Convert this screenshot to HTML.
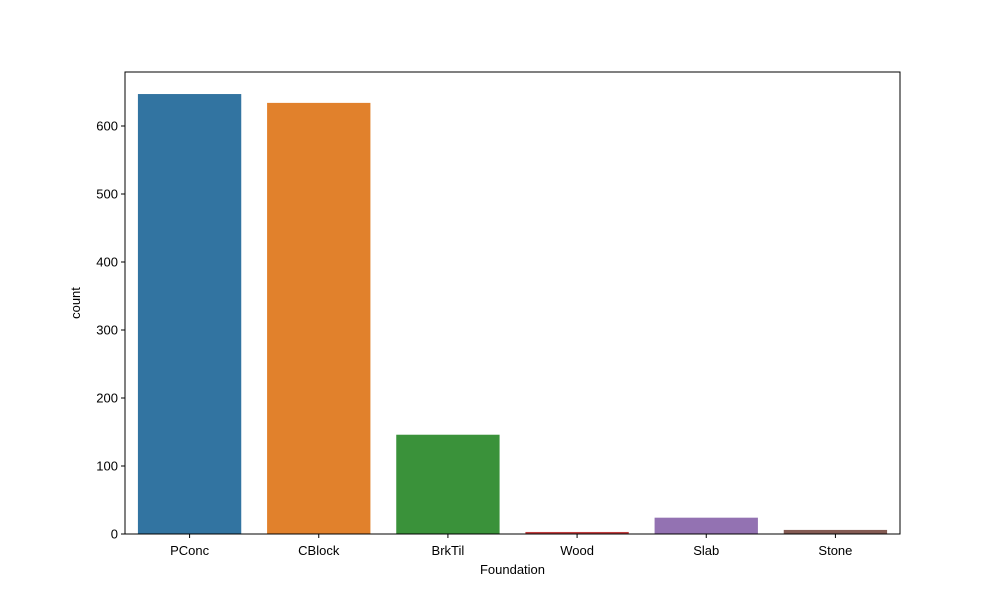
<!DOCTYPE html>
<html><head><meta charset="utf-8"><style>
body{margin:0;background:#fff;}
svg text{font-family:"Liberation Sans",sans-serif;font-size:13px;fill:#000;}
</style></head><body>
<svg id="chart" width="1000" height="600">
<rect width="1000" height="600" fill="#fff"/>
<g id="bars"></g>
<g id="axes"></g>
</svg>
<script>
const categories=["PConc","CBlock","BrkTil","Wood","Slab","Stone"];
const counts=[647,634,146,3,24,6];
const yTicks=[0,100,200,300,400,500,600];
const colors=["#3274a1","#e1812c","#3a923a","#c03d3e","#9372b2","#845b53"];
const L=125,R=900,T=72,B=534;
const ns="http://www.w3.org/2000/svg";
const band=(R-L)/categories.length;
const xC=i=>L+band*(i+0.5);
const y=v=>B-v*(B-126)/600;
function mk(tag,attrs,parent){const e=document.createElementNS(ns,tag);for(const k in attrs)e.setAttribute(k,attrs[k]);parent.appendChild(e);return e;}
const bars=document.getElementById('bars'),axes=document.getElementById('axes');
counts.forEach((v,i)=>{
  const r=mk('rect',{x:xC(i)-band*0.4,y:y(v),width:band*0.8,height:B-y(v),fill:colors[i]},bars);
  
  
});
const frame=mk('rect',{x:L,y:T,width:R-L,height:B-T,fill:'none',stroke:'#000','stroke-width':1},axes);


yTicks.forEach(t=>{
  mk('line',{x1:L-4,x2:L,y1:y(t),y2:y(t),stroke:'#000'},axes);
  const tx=mk('text',{x:L-7,y:y(t)+4.5,'text-anchor':'end'},axes);
  tx.textContent=t;
  
  
});
categories.forEach((c,i)=>{
  mk('line',{x1:xC(i),x2:xC(i),y1:B,y2:B+4,stroke:'#000'},axes);
  const tx=mk('text',{x:xC(i),y:B+21,'text-anchor':'middle'},axes);
  tx.textContent=c;
  
  
});
const xt=mk('text',{x:(L+R)/2,y:574,'text-anchor':'middle'},axes);
xt.textContent='Foundation';


const yt=mk('text',{x:80,y:(T+B)/2,'text-anchor':'middle',transform:`rotate(-90 80 ${(T+B)/2})`},axes);
yt.textContent='count';


</script>
</body></html>
